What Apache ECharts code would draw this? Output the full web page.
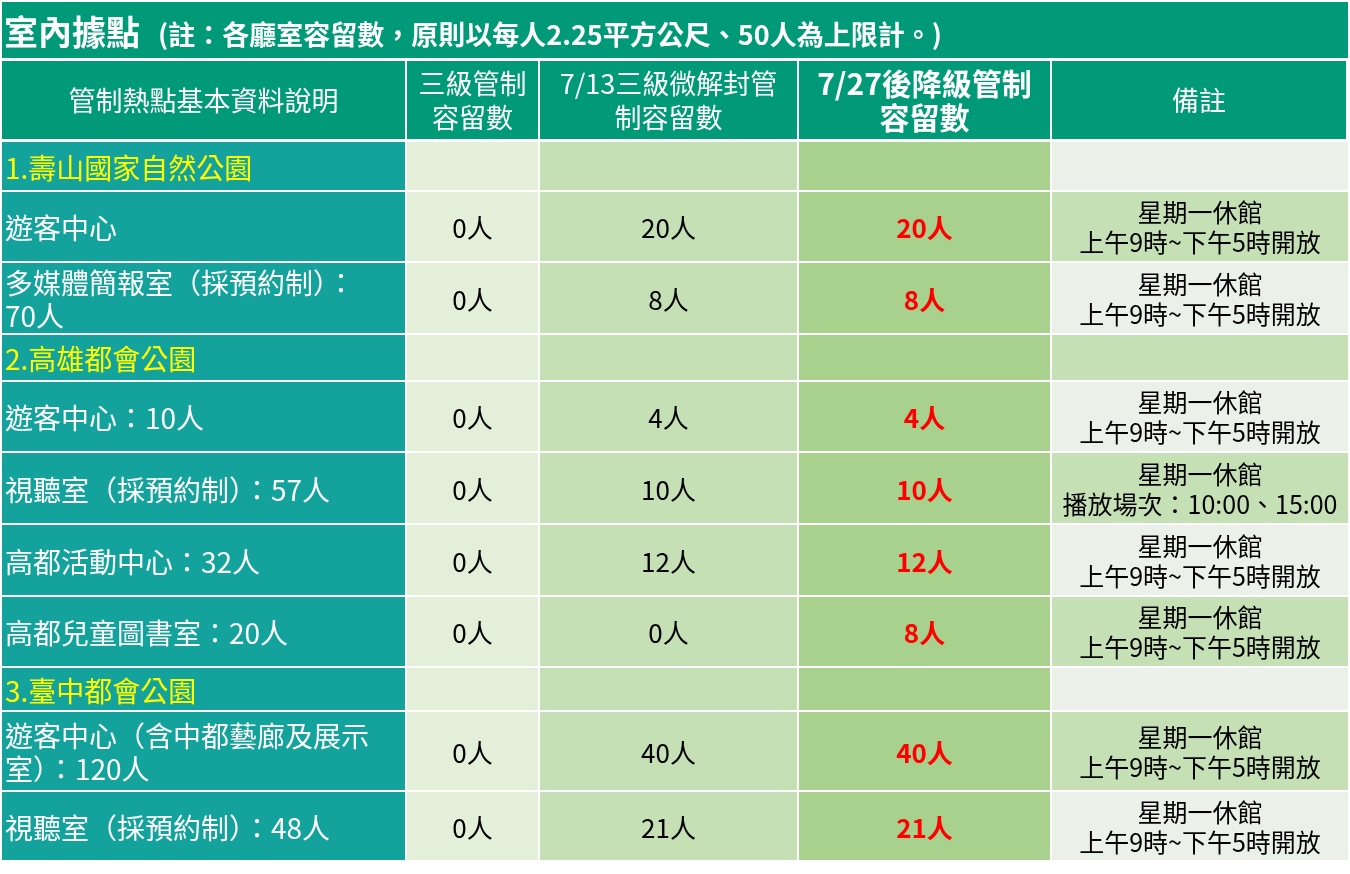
<!DOCTYPE html>
<html><head><meta charset="utf-8">
<script src="https://cdn.jsdelivr.net/npm/echarts@6/dist/echarts.min.js"></script>
<style>html,body{margin:0;padding:0;background:#fff}#c{width:1350px;height:874px}</style>
</head><body><div id="c"></div>
<script>
const titleMain = '室內據點';
const titleNote = '(註：各廳室容留數，原則以每人2.25平方公尺、50人為上限計。)';
const headers = ['管制熱點基本資料說明', '三級管制\n容留數', '7/13三級微解封管\n制容留數', '7/27後降級管制\n容留數', '備註'];
const names = ['1.壽山國家自然公園', '遊客中心', '多媒體簡報室（採預約制）：\n70人', '2.高雄都會公園', '遊客中心：10人', '視聽室（採預約制）：57人', '高都活動中心：32人', '高都兒童圖書室：20人', '3.臺中都會公園', '遊客中心（含中都藝廊及展示\n室）：120人', '視聽室（採預約制）：48人'];
const isSection = [1,0,0,1,0,0,0,0,1,0,0];
const level3 = ['', '0人', '0人', '', '0人', '0人', '0人', '0人', '', '0人', '0人'];
const jul13 = ['', '20人', '8人', '', '4人', '10人', '12人', '0人', '', '40人', '21人'];
const jul27 = ['', '20人', '8人', '', '4人', '10人', '12人', '8人', '', '40人', '21人'];
const notes = ['', '星期一休館\n上午9時~下午5時開放', '星期一休館\n上午9時~下午5時開放', '', '星期一休館\n上午9時~下午5時開放', '星期一休館\n播放場次：10:00、15:00', '星期一休館\n上午9時~下午5時開放', '星期一休館\n上午9時~下午5時開放', '', '星期一休館\n上午9時~下午5時開放', '星期一休館\n上午9時~下午5時開放'];

const colX = [2, 407, 540, 799, 1052, 1348];
const rowY = [142, 192, 263, 335, 382, 453, 525, 597, 668, 712, 792, 862];
const FONT = '"Noto Sans CJK TC","Noto Sans",sans-serif';
const g = [];
function rect(x, y, w, h, fill) { g.push({type:'rect', shape:{x, y, width:w, height:h}, style:{fill}}); }
function text(x, y, t, size, fill, opt) {
  opt = opt || {};
  g.push({type:'text', x, y, style:{text:t, font:(opt.bold?'bold ':'')+size+'px '+FONT, fill, align:opt.align||'center', verticalAlign:'middle', lineHeight:opt.lh||size*1.25}});
}
rect(2, 2, 1346, 56, '#009a78');
text(4, 32, titleMain, 34, '#fff', {bold:true, align:'left'});
text(158, 35, titleNote, 27, '#fff', {bold:true, align:'left'});
for (let c = 0; c < 5; c++) {
  rect(colX[c], 61, colX[c+1]-colX[c]-2, 78, '#009a78');
  const big = c === 3;
  text((colX[c]+colX[c+1]-2)/2, 101, headers[c], big?30:27, '#fff', {bold:big, lh:34});
}
const col5 = ['#ebf0e9', '#c5e0b4'];
for (let r = 0; r < names.length; r++) {
  const y = rowY[r], h = rowY[r+1]-rowY[r]-2, cy = y + h/2;
  rect(colX[0], y, colX[1]-colX[0]-2, h, '#14a39c');
  rect(colX[1], y, colX[2]-colX[1]-2, h, '#e3efd9');
  rect(colX[2], y, colX[3]-colX[2]-2, h, '#c5e0b4');
  rect(colX[3], y, colX[4]-colX[3]-2, h, '#a9d18e');
  rect(colX[4], y, colX[5]-colX[4], h, col5[r % 2]);
  text(colX[0]+3, cy+2, names[r], 28, isSection[r] ? '#ffff00' : '#fff', {align:'left', lh:33});
  const mid = c => (colX[c]+colX[c+1]-2)/2;
  text(mid(1), cy+2, level3[r], 26, '#000');
  text(mid(2), cy+2, jul13[r], 26, '#000');
  text(mid(3), cy+2, jul27[r], 26, '#ff0000', {bold:true});
  text((colX[4]+colX[5])/2, cy+1, notes[r], 25, '#000', {lh:30});
}
const chart = echarts.init(document.getElementById('c'));
chart.setOption({animation:false, graphic:{elements:g}});
</script></body></html>
